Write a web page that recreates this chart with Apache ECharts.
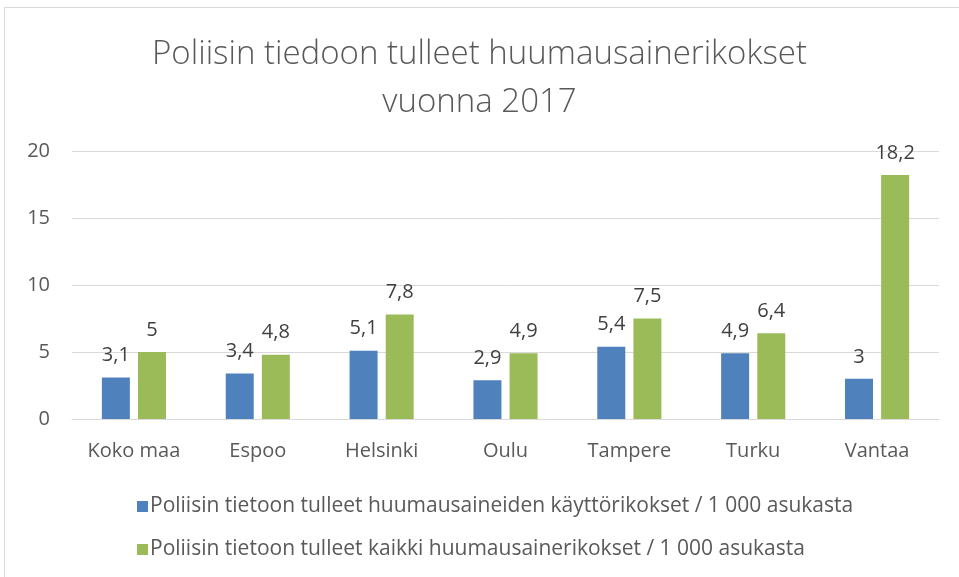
<!doctype html>
<html>
<head>
    <meta charset="utf-8">
    <title>Poliisin tiedoon tulleet huumausainerikokset vuonna 2017</title>
    <script src="https://cdn.jsdelivr.net/npm/echarts@6/dist/echarts.min.js"></script>
    <style>
        html, body { margin: 0; padding: 0; background: #fff; }
        #chart { width: 959px; height: 577px; }
    </style>
</head>
<body>
<div id="chart"></div>
<script type="text/javascript">
    var cities = ['Koko maa', 'Espoo', 'Helsinki', 'Oulu', 'Tampere', 'Turku', 'Vantaa'];
    var kayttoName = 'Poliisin tietoon tulleet huumausaineiden käyttörikokset / 1 000 asukasta';
    var kaikkiName = 'Poliisin tietoon tulleet kaikki huumausainerikokset / 1 000 asukasta';
    var kaytto = [3.1, 3.4, 5.1, 2.9, 5.4, 4.9, 3];
    var kaikki = [5, 4.8, 7.8, 4.9, 7.5, 6.4, 18.2];

    var font = 'Open Sans';
    var txt = '#595959';

    // pilkku desimaalierottimena
    function pilkku(p) { return String(p.value).replace('.', ','); }

    var chart = echarts.init(document.getElementById('chart'));
    chart.setOption({
        animation: false,
        title: {
            text: 'Poliisin tiedoon tulleet huumausainerikokset\nvuonna 2017',
            left: 'center',
            top: 26,
            textStyle: { fontFamily: font, fontWeight: 300, fontSize: 33, color: txt, lineHeight: 48 }
        },
        legend: {
            orient: 'vertical',
            left: 132,
            top: 491,
            itemGap: 22,
            itemWidth: 11,
            itemHeight: 11,
            icon: 'rect',
            textStyle: { fontFamily: font, fontSize: 21, color: txt, padding: [0, 0, 0, -3] },
            data: [kayttoName, kaikkiName]
        },
        grid: { left: 72, right: 20, top: 151, bottom: 158 },
        xAxis: {
            type: 'category',
            data: cities,
            axisLine: { lineStyle: { color: '#d9d9d9' } },
            axisTick: { show: false },
            axisLabel: { fontFamily: font, fontSize: 20, color: txt, margin: 22 }
        },
        yAxis: {
            type: 'value',
            min: 0,
            max: 20,
            interval: 5,
            axisLine: { show: false },
            axisTick: { show: false },
            splitLine: { lineStyle: { color: '#d9d9d9' } },
            axisLabel: { fontFamily: font, fontSize: 20, color: txt, margin: 22 }
        },
        series: [
            {
                name: kayttoName,
                type: 'bar',
                data: kaytto,
                barWidth: 28,
                barGap: '29%',
                itemStyle: { color: '#4f81bd' },
                label: { show: true, position: 'top', distance: 12, formatter: pilkku,
                    fontFamily: font, fontSize: 20, color: '#404040' }
            },
            {
                name: kaikkiName,
                type: 'bar',
                data: kaikki,
                barWidth: 28,
                itemStyle: { color: '#9bbb59' },
                label: { show: true, position: 'top', distance: 12, formatter: pilkku,
                    fontFamily: font, fontSize: 20, color: '#404040' }
            }
        ],
        graphic: [
            { type: 'rect', shape: { x: 4.5, y: 7.5, width: 980, height: 600 },
              style: { fill: 'none', stroke: '#d9d9d9', lineWidth: 1 } }
        ]
    });
</script>
</body>
</html>
